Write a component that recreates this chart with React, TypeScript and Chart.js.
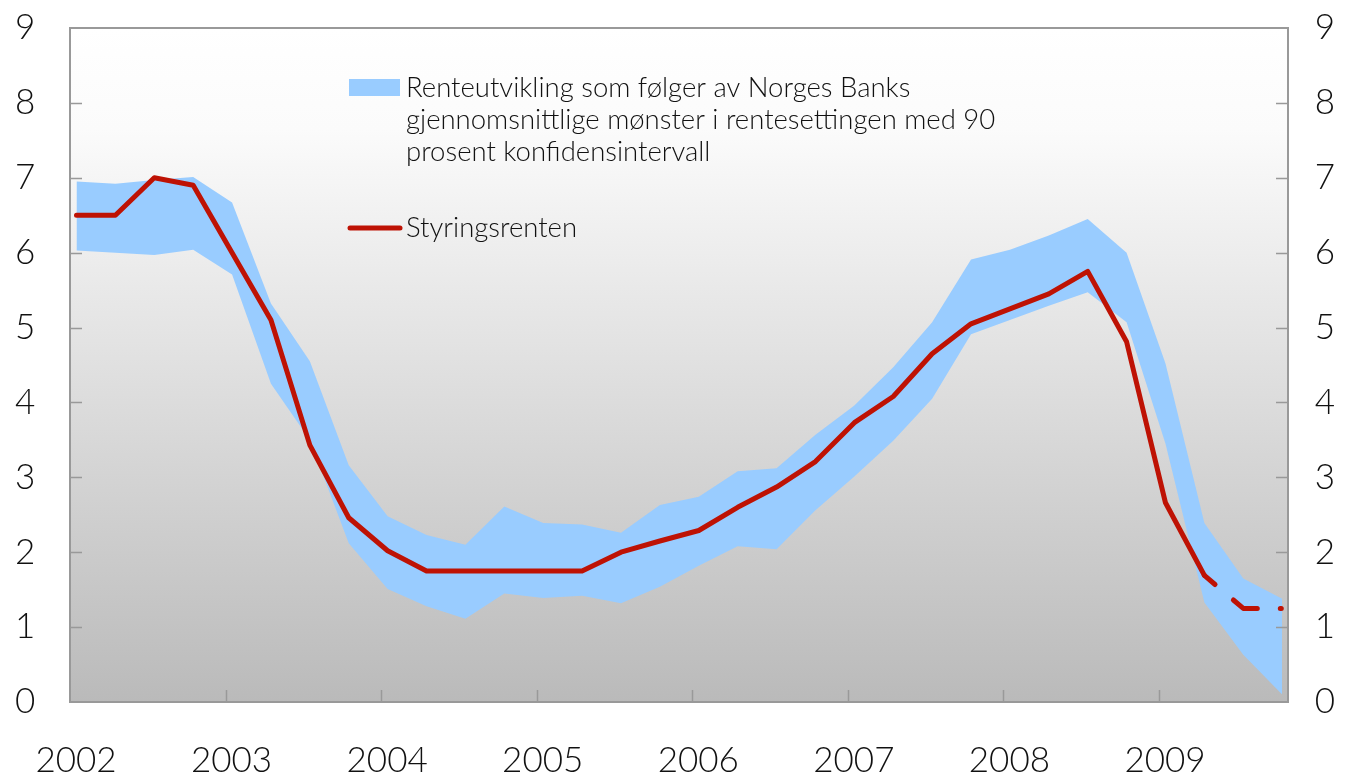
import React, { useEffect, useRef } from "react";
import { Chart, registerables } from "chart.js";

Chart.register(...registerables);

// Quarterly data 2002Q1 – 2009Q4
const quarters: string[] = [
  "2002K1", "2002K2", "2002K3", "2002K4",
  "2003K1", "2003K2", "2003K3", "2003K4",
  "2004K1", "2004K2", "2004K3", "2004K4",
  "2005K1", "2005K2", "2005K3", "2005K4",
  "2006K1", "2006K2", "2006K3", "2006K4",
  "2007K1", "2007K2", "2007K3", "2007K4",
  "2008K1", "2008K2", "2008K3", "2008K4",
  "2009K1", "2009K2", "2009K3", "2009K4",
];

const styringsrenten: number[] = [
  6.5, 6.5, 7.0, 6.9,
  6.0, 5.1, 3.43, 2.46,
  2.02, 1.75, 1.75, 1.75,
  1.75, 1.75, 2.0, 2.15,
  2.29, 2.6, 2.87, 3.21,
  3.73, 4.08, 4.65, 5.05,
  5.25, 5.45, 5.75, 4.81,
  2.66, 1.69, 1.25, 1.25,
];

const bandUpper: number[] = [
  6.95, 6.92, 6.97, 7.01,
  6.67, 5.32, 4.55, 3.16,
  2.48, 2.23, 2.1, 2.61,
  2.39, 2.37, 2.26, 2.63,
  2.74, 3.08, 3.12, 3.57,
  3.96, 4.47, 5.07, 5.91,
  6.04, 6.23, 6.45, 6.0,
  4.52, 2.39, 1.65, 1.38,
];

const bandLower: number[] = [
  6.03, 6.0, 5.97, 6.04,
  5.71, 4.25, 3.5, 2.12,
  1.51, 1.28, 1.11, 1.45,
  1.39, 1.42, 1.32, 1.54,
  1.82, 2.08, 2.04, 2.56,
  3.01, 3.49, 4.05, 4.91,
  5.1, 5.29, 5.47, 5.07,
  3.45, 1.33, 0.63, 0.1,
];

const yearLabels: string[] = ["2002", "2003", "2004", "2005", "2006", "2007", "2008", "2009"];
const yTickValues: number[] = [0, 1, 2, 3, 4, 5, 6, 7, 8, 9];

const legendBandText: string[] = [
  "Renteutvikling som følger av Norges Banks",
  "gjennomsnittlige mønster i rentesettingen med 90",
  "prosent konfidensintervall",
];
const legendLineText = "Styringsrenten";

const FONT_FAMILY = "Lato, 'Open Sans', 'DejaVu Sans', sans-serif";
const RED = "#BE1204";
const BLUE = "#99CCFF";
const AXIS_GRAY = "#999999";
const X_SHIFT = 0.167; // year tick sits slightly before first quarter point
const X_MAX = 31.15;
const DASH_FROM = 29; // forecast part dashed from this index
const FORECAST_DASH = [14, 24, 27, 23, 1, 10];

const toPoints = (arr: number[]) => arr.map((v, i) => ({ x: i, y: v }));

const decorPlugin = {
  id: "decor",
  beforeDraw(chart: any) {
    const { ctx, chartArea } = chart;
    const { left, right, top, bottom } = chartArea;
    const g = ctx.createLinearGradient(0, top, 0, bottom);
    g.addColorStop(0, "#ffffff");
    g.addColorStop(0.15, "#fbfbfb");
    g.addColorStop(1, "#bababa");
    ctx.save();
    ctx.fillStyle = g;
    ctx.fillRect(left, top, right - left, bottom - top);
    ctx.restore();
  },
  afterDraw(chart: any) {
    const { ctx, chartArea, scales } = chart;
    const { left, right, top, bottom } = chartArea;
    ctx.save();
    ctx.strokeStyle = AXIS_GRAY;
    ctx.lineWidth = 1.5;
    // inward tick marks on y axes
    yTickValues.forEach((v) => {
      if (v === 0 || v === 9) return;
      const y = Math.round(scales.y.getPixelForValue(v)) + 0.5;
      ctx.beginPath();
      ctx.moveTo(left, y);
      ctx.lineTo(left + 12, y);
      ctx.moveTo(right - 12, y);
      ctx.lineTo(right, y);
      ctx.stroke();
    });
    // inward tick marks on x axis
    yearLabels.forEach((_, k) => {
      if (k === 0) return;
      const x = Math.round(scales.x.getPixelForValue(k * 4 - X_SHIFT)) + 0.5;
      ctx.beginPath();
      ctx.moveTo(x, bottom);
      ctx.lineTo(x, bottom - 12);
      ctx.stroke();
    });
    // top frame line
    ctx.lineWidth = 2;
    ctx.beginPath();
    ctx.moveTo(left, top);
    ctx.lineTo(right, top);
    ctx.stroke();

    // legend
    ctx.fillStyle = BLUE;
    ctx.fillRect(349, 79, 51, 17);
    ctx.strokeStyle = RED;
    ctx.lineWidth = 5;
    ctx.lineCap = "round";
    ctx.beginPath();
    ctx.moveTo(350, 228);
    ctx.lineTo(400, 228);
    ctx.stroke();
    ctx.fillStyle = "#111111";
    ctx.font = `300 27.5px ${FONT_FAMILY}`;
    ctx.textBaseline = "middle";
    ctx.textAlign = "left";
    legendBandText.forEach((t, i) => ctx.fillText(t, 406, 88 + i * 32));
    ctx.fillText(legendLineText, 406, 228);
    ctx.restore();
  },
};

export default function App() {
  const canvasRef = useRef<HTMLCanvasElement | null>(null);

  useEffect(() => {
    if (!canvasRef.current) return;
    const yFont = { family: FONT_FAMILY, size: 35, weight: 300 as any };
    const xFont = { family: FONT_FAMILY, size: 35, weight: 300 as any, lineHeight: "117px" };
    const chart = new Chart(canvasRef.current, {
      type: "line",
      data: {
        labels: quarters,
        datasets: [
          {
            label: legendLineText,
            data: toPoints(styringsrenten),
            borderColor: RED,
            borderWidth: 5,
            pointRadius: 0,
            fill: false,
            tension: 0,
            borderJoinStyle: "round",
            borderCapStyle: "round",
            order: 0,
            segment: {
              borderDash: (c: any) => (c.p0DataIndex >= DASH_FROM ? FORECAST_DASH : undefined),
            },
          },
          {
            label: "upper",
            data: toPoints(bandUpper),
            borderWidth: 0,
            borderColor: "rgba(0,0,0,0)",
            backgroundColor: BLUE,
            pointRadius: 0,
            fill: "+1",
            tension: 0,
            order: 1,
          },
          {
            label: "lower",
            data: toPoints(bandLower),
            borderWidth: 0,
            borderColor: "rgba(0,0,0,0)",
            backgroundColor: BLUE,
            pointRadius: 0,
            fill: false,
            tension: 0,
            order: 2,
          },
        ] as any,
      },
      options: {
        animation: false,
        responsive: true,
        maintainAspectRatio: false,
        layout: { padding: { top: 28, left: 15, right: 13, bottom: 0 } },
        plugins: {
          legend: { display: false },
          tooltip: { enabled: false },
        },
        scales: {
          x: {
            type: "linear",
            min: -X_SHIFT,
            max: X_MAX,
            grid: { display: false, drawTicks: false },
            border: { display: true, color: AXIS_GRAY, width: 2 },
            afterBuildTicks: (scale: any) => {
              scale.ticks = yearLabels.map((_, k) => ({ value: k * 4 - X_SHIFT }));
            },
            afterFit: (scale: any) => {
              scale.height = 76;
            },
            ticks: {
              autoSkip: false,
              maxRotation: 0,
              padding: 0,
              labelOffset: 6,
              color: "#111111",
              font: xFont,
              callback: (v: any) => yearLabels[Math.round((Number(v) + X_SHIFT) / 4)],
            },
          },
          y: {
            position: "left",
            min: 0,
            max: 9,
            grid: { display: false, drawTicks: false },
            border: { display: true, color: AXIS_GRAY, width: 2 },
            afterBuildTicks: (scale: any) => {
              scale.ticks = yTickValues.map((v) => ({ value: v }));
            },
            afterFit: (scale: any) => {
              scale.width = 55;
            },
            ticks: { padding: 0, crossAlign: "far", color: "#111111", font: yFont },
          },
          y2: {
            position: "right",
            min: 0,
            max: 9,
            grid: { display: false, drawTicks: false },
            border: { display: true, color: AXIS_GRAY, width: 2 },
            afterBuildTicks: (scale: any) => {
              scale.ticks = yTickValues.map((v) => ({ value: v }));
            },
            afterFit: (scale: any) => {
              scale.width = 47;
            },
            ticks: { padding: 0, crossAlign: "far", color: "#111111", font: yFont },
          },
        },
      } as any,
      plugins: [decorPlugin],
    });
    return () => chart.destroy();
  }, []);

  return (
    <div style={{ position: "absolute", left: 0, top: 0, width: 1348, height: 778, background: "#ffffff" }}>
      <canvas ref={canvasRef} />
    </div>
  );
}
